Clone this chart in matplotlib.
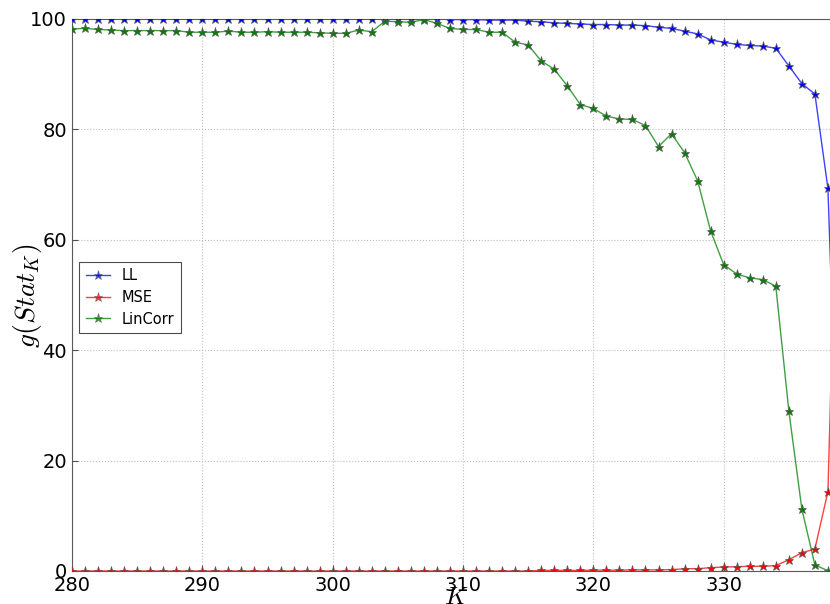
import matplotlib
matplotlib.use("Agg")
import matplotlib.pyplot as plt

plt.rcParams["mathtext.fontset"] = "cm"

K = list(range(280, 340))

LL = [100.0] * 29 + [
    99.9, 99.9, 99.9, 99.8, 99.8, 99.8, 99.6, 99.5, 99.3, 99.2,   # 309-318
    99.1, 99.0, 99.0, 98.9, 98.9, 98.8, 98.5, 98.3, 97.8, 97.3,   # 319-328
    96.2, 95.8, 95.4, 95.2, 95.1, 94.7, 91.5, 88.3, 86.4, 69.3,   # 329-338
    0.0]                                                          # 339

MSE = [0.0] * 36 + [
    0.1, 0.1, 0.1, 0.1, 0.15, 0.15, 0.15, 0.2, 0.2, 0.2,           # 316-325
    0.25, 0.4, 0.42, 0.6, 0.72, 0.78, 0.85, 0.85, 0.97, 2.05,      # 326-335
    3.3, 4.0, 14.4, 100.0]                                         # 336-339

LinCorr = [
    98.2, 98.3, 98.1, 98.0, 97.9, 97.9, 97.9, 97.9, 97.9, 97.6,   # 280-289
    97.6, 97.6, 97.8, 97.6, 97.6, 97.7, 97.6, 97.6, 97.6, 97.5,   # 290-299
    97.4, 97.4, 98.0, 97.7, 99.6, 99.5, 99.4, 99.9, 99.2, 98.3,   # 300-309
    98.1, 98.1, 97.6, 97.6, 95.8, 95.3, 92.4, 90.9, 87.9, 84.5,   # 310-319
    83.8, 82.4, 81.9, 81.8, 80.7, 76.9, 79.2, 75.8, 70.7, 61.6,   # 320-329
    55.5, 53.8, 53.1, 52.8, 51.6, 29.0, 11.2, 1.1, 0.05, 0.0]     # 330-339

series = [("LL", LL, "b"), ("MSE", MSE, "r"), ("LinCorr", LinCorr, "g")]

fig = plt.figure(figsize=(8.3, 6.04), dpi=100)
ax = fig.add_axes([72 / 830, 33 / 604, (854 - 72) / 830, 552 / 604])

handles = []
for name, vals, c in series:
    ax.plot(K, vals, color=c, lw=1.0, alpha=0.75, zorder=2)
    ax.plot(K, vals, linestyle="none", marker="*", ms=6.5, mfc=c,
            mec="0.35", mew=0.5, zorder=3)
    h, = ax.plot([], [], color=c, lw=1.0, alpha=0.75, marker="*", ms=6.5,
                 mfc=c, mec="0.35", mew=0.5, label=name)
    handles.append(h)

ax.set_xlim(280, 340)
ax.set_ylim(0, 100)
ax.set_xticks([280, 290, 300, 310, 320, 330])
ax.set_yticks([0, 20, 40, 60, 80, 100])
ax.tick_params(direction="in", labelsize=14, length=4, color="0.3")
ax.grid(True, linestyle=":", color="0.75", lw=0.8)
for s in ax.spines.values():
    s.set_color("0.35")

fig.text(456 / 830, 1 - 597 / 604, r"$K$", fontsize=18,
         ha="center", va="center")
fig.text(27 / 830, 1 - 296 / 604, r"$g(Stat_K)$", fontsize=20,
         rotation=90, ha="center", va="center")

leg = ax.legend(handles=handles, loc="upper left",
                bbox_to_anchor=(0.009, 0.56), borderaxespad=0,
                fontsize=10.5, fancybox=False, framealpha=1,
                edgecolor="0.3", handlelength=1.7, labelspacing=0.45,
                borderpad=0.45)
leg.get_frame().set_linewidth(0.8)

fig.savefig("out.png", dpi=100)
